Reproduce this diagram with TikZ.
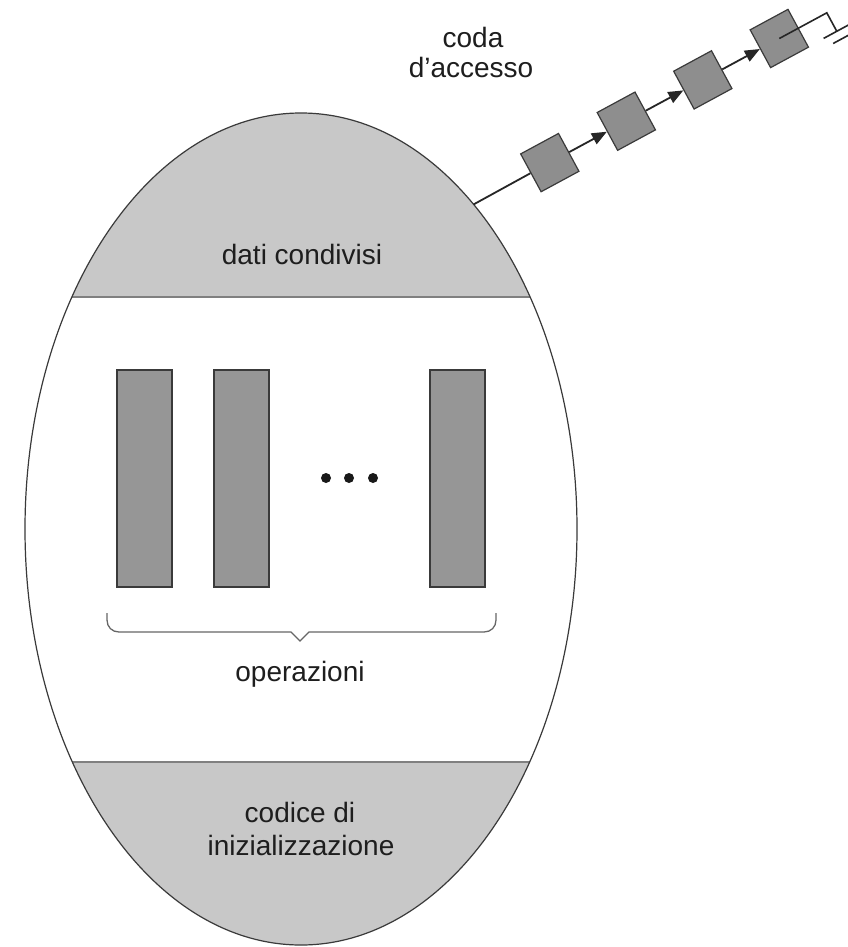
\documentclass[tikz,border=0pt]{standalone}
\usepackage{fontspec}
\setmainfont{Liberation Sans}
\usetikzlibrary{arrows.meta,shapes.geometric}
\definecolor{bandgray}{HTML}{C8C8C8}
\definecolor{opgray}{HTML}{969696}
\definecolor{qgray}{HTML}{8E8E8E}
\definecolor{edgec}{HTML}{3A3A3A}
\definecolor{txt}{HTML}{1E1E1E}
\begin{document}
\begin{tikzpicture}[x=1pt,y=-1pt,
  lbl/.style={font=\fontsize{28}{33}\selectfont, text=txt, inner sep=0pt, anchor=base},
  opbox/.style={draw=edgec, line width=1.3pt, fill=opgray, minimum width=55pt, minimum height=217pt, inner sep=0pt},
  qbox/.style={draw=edgec, line width=1.2pt, fill=qgray, minimum size=43pt, inner sep=0pt, rotate=28.4},
  qline/.style={draw=black!85, line width=1.8pt},
  qarrow/.style={qline, -{Triangle[length=15pt,width=12pt]}},
  band/.style={draw=black!50, line width=1.8pt},
  dotn/.style={circle, fill=black!90, minimum size=10pt, inner sep=0pt},
  bracec/.style={draw=black!60, line width=1.3pt}]
\useasboundingbox (0,0) rectangle (848,947);
\fill[white] (0,0) rectangle (848,947);
% bands
\begin{scope}
  \clip (301,529) ellipse [x radius=276pt, y radius=416pt];
  \fill[bandgray] (0,0) rectangle (848,297);
  \fill[bandgray] (0,762) rectangle (848,947);
  \draw[band] (0,297) -- (848,297);
  \draw[band] (0,762) -- (848,762);
\end{scope}
% monitor outline
\node[ellipse, draw=edgec, line width=1.2pt, minimum width=552pt, minimum height=832pt, inner sep=0pt, outer sep=0pt] (mon) at (301,529) {};
% texts
\node[lbl] (dati) at (302,264) {dati condivisi};
\node[lbl] (cod1) at (300,822) {codice di};
\node[lbl] (cod2) at (301,855) {inizializzazione};
\node[lbl] (ops) at (300,681) {operazioni};
\node[lbl] (coda1) at (473,48) {coda};
\node[lbl] (coda2) at (471,78) {d’accesso};
% operations
\node[opbox] (op1) at (144.5,478.5) {};
\node[opbox] (op2) at (241.5,478.5) {};
\node[opbox] (op3) at (457.5,478.5) {};
\node[dotn] (d1) at (326,478) {};
\node[dotn] (d2) at (349,478) {};
\node[dotn] (d3) at (373,478) {};
% brace
\draw[bracec] (107,613) -- (107,620) .. controls (107,627) and (112,632) .. (119,632)
  -- (291,632) -- (300,641) -- (309,632) -- (484,632)
  .. controls (491,632) and (496,627) .. (496,620) -- (496,613);
% queue
\coordinate (qs) at (mon.62.3);
\node[qbox] (b1) at (549.8,162.6) {};
\node[qbox] (b2) at (626.3,121.2) {};
\node[qbox] (b3) at (702.8,79.9) {};
\node[qbox] (b4) at (779.3,38.5) {};
\draw[qline] (qs) -- (b1);
\draw[qarrow] (b1) -- (b2);
\draw[qarrow] (b2) -- (b3);
\draw[qarrow] (b3) -- (b4);
\begin{scope}[shift={(b4.center)}, rotate=28.4]
  \draw[qline, line width=1.6pt] (b4.center) -- (54,0) -- (54,21);
  \draw[qline, line width=1.6pt] (39,21) -- (69,21);
  \draw[qline, line width=1.6pt] (45,30) -- (63,30);
\end{scope}
\end{tikzpicture}
\end{document}
